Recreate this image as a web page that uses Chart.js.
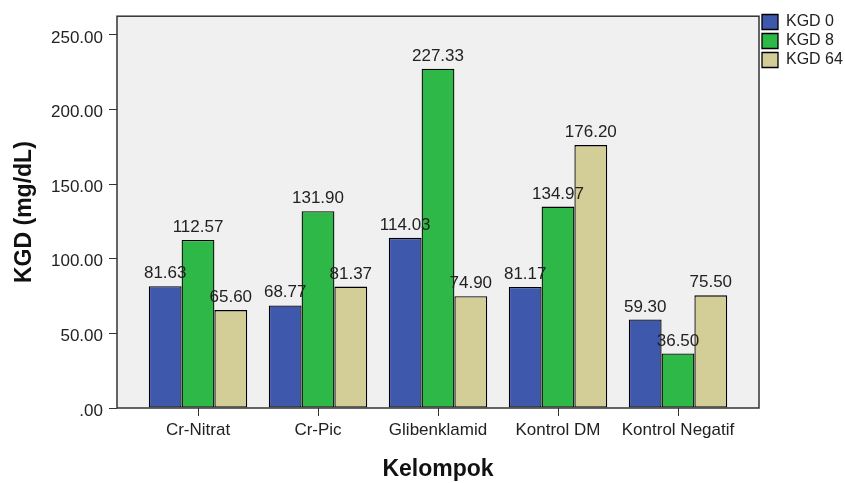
<!DOCTYPE html>
<html>
<head>
<meta charset="utf-8">
<script src="https://cdn.jsdelivr.net/npm/chart.js@4"></script>
<style>
  html, body { margin: 0; padding: 0; background: #fff; }
</style>
</head>
<body>
<canvas id="chartKGD" width="845" height="483"></canvas>
<script>
const kelompok = ["Cr-Nitrat", "Cr-Pic", "Glibenklamid", "Kontrol DM", "Kontrol Negatif"];
const kgd0 = [81.63, 68.77, 114.03, 81.17, 59.30];
const kgd8 = [112.57, 131.90, 227.33, 134.97, 36.50];
const kgd64 = [65.60, 81.37, 74.90, 176.20, 75.50];
const yTicks = [0, 50, 100, 150, 200, 250];

Chart.defaults.font.family = "'Liberation Sans', Arial, sans-serif";
Chart.defaults.color = "#222";

// points on a linear x scale, one group per kelompok
function toPoints(values) {
  return values.map((v, i) => ({ x: i, y: v }));
}

// grey plot area + black frame
const plotFrame = {
  id: "plotFrame",
  beforeDraw(chart) {
    const a = chart.chartArea;
    const ctx = chart.ctx;
    ctx.save();
    ctx.fillStyle = "#F0F0F0";
    ctx.fillRect(a.left, a.top, a.right - a.left, a.bottom - a.top);
    ctx.restore();
  },
  afterDatasetsDraw(chart) {
    const a = chart.chartArea;
    const ctx = chart.ctx;
    ctx.save();
    ctx.strokeStyle = "#333";
    ctx.lineWidth = 1.5;
    ctx.strokeRect(a.left, a.top, a.right - a.left, a.bottom - a.top);
    ctx.restore();
  }
};

// value labels above each bar
const barValues = {
  id: "barValues",
  afterDatasetsDraw(chart) {
    const ctx = chart.ctx;
    ctx.save();
    ctx.font = "17px 'Liberation Sans', Arial, sans-serif";
    ctx.fillStyle = "#222";
    ctx.textAlign = "center";
    ctx.textBaseline = "alphabetic";
    chart.data.datasets.forEach((ds, d) => {
      chart.getDatasetMeta(d).data.forEach((bar, i) => {
        ctx.fillText(ds.data[i].y.toFixed(2), bar.x, bar.y - 8);
      });
    });
    ctx.restore();
  }
};

new Chart(document.getElementById("chartKGD"), {
  type: "bar",
  data: {
    datasets: [
      { label: "KGD 0", data: toPoints(kgd0), backgroundColor: "#3E58AC" },
      { label: "KGD 8", data: toPoints(kgd8), backgroundColor: "#2EB848" },
      { label: "KGD 64", data: toPoints(kgd64), backgroundColor: "#D3CE97" }
    ]
  },
  options: {
    responsive: false,
    animation: false,
    events: [],
    layout: { padding: { top: 11, right: 0, bottom: 0, left: 0 } },
    datasets: {
      bar: {
        borderColor: "#000",
        borderWidth: 1.3,
        borderSkipped: false,
        categoryPercentage: 0.82,
        barPercentage: 1
      }
    },
    scales: {
      x: {
        type: "linear",
        offset: false,
        min: -0.675,
        max: 4.675,
        afterBuildTicks: s => { s.ticks = kelompok.map((_, i) => ({ value: i })); },
        afterFit: s => { s.height = 75; },
        grid: { offset: false, drawOnChartArea: false, drawTicks: true, tickLength: 8, tickColor: "#333" },
        border: { display: false },
        ticks: {
          autoSkip: false,
          maxRotation: 0,
          padding: 4,
          color: "#222",
          font: { size: 17 },
          callback: v => kelompok[v]
        },
        title: {
          display: true,
          text: "Kelompok",
          color: "#111",
          font: { size: 23, weight: "bold" },
          padding: { top: 0, bottom: 0 }
        }
      },
      y: {
        min: 0,
        max: 262.6,
        afterBuildTicks: s => { s.ticks = yTicks.map(v => ({ value: v })); },
        afterFit: s => { s.width = 117; },
        grid: { drawOnChartArea: false, drawTicks: true, tickLength: 8, tickColor: "#333" },
        border: { display: false },
        ticks: {
          padding: 6,
          labelOffset: 3,
          color: "#222",
          font: { size: 17 },
          callback: v => (v === 0 ? ".00" : v.toFixed(2))
        },
        title: {
          display: true,
          text: "KGD (mg/dL)",
          color: "#111",
          font: { size: 23, weight: "bold" },
          padding: { top: 11, bottom: 0 }
        }
      }
    },
    plugins: {
      legend: {
        position: "right",
        align: "start",
        maxWidth: 86,
        labels: {
          boxWidth: 16,
          boxHeight: 15,
          padding: 3,
          color: "#222",
          font: { size: 16 }
        }
      },
      tooltip: { enabled: false }
    }
  },
  plugins: [plotFrame, barValues]
});
</script>
</body>
</html>
